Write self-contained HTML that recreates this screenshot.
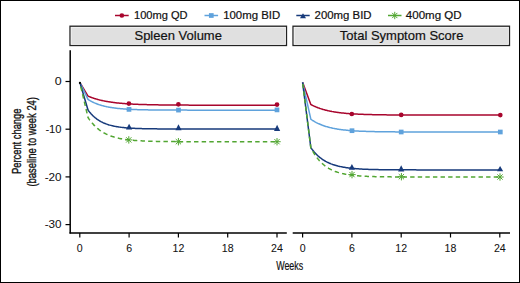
<!DOCTYPE html>
<html><head><meta charset="utf-8"><style>
html,body{margin:0;padding:0;background:#fff;}
body{width:520px;height:283px;overflow:hidden;}
svg{display:block;}
text{font-family:"Liberation Sans",sans-serif;fill:#111;stroke:#111;stroke-width:0.2px;}
.tk{font-size:10.6px;stroke-width:0.05px;}
.lg{font-size:10.9px;}
.hd{font-size:13px;}
</style></head><body>
<svg width="520" height="283" viewBox="0 0 520 283">
<rect x="0.5" y="0.5" width="519" height="282" fill="#fff" stroke="#000" stroke-width="1"/>
<line x1="115" y1="15.5" x2="128.7" y2="15.5" stroke="#a8052d" stroke-width="1.5"/>
<circle cx="121.85" cy="15.50" r="2.35" fill="#a8052d"/>
<line x1="204.5" y1="15.5" x2="218.1" y2="15.5" stroke="#5fa2dc" stroke-width="1.5"/>
<rect x="208.95" y="13.15" width="4.7" height="4.7" fill="#5fa2dc"/>
<line x1="296.3" y1="15.5" x2="309.7" y2="15.5" stroke="#173a7b" stroke-width="1.5"/>
<path d="M303.00,13.20 L306.00,18.30 L300.00,18.30 Z" fill="#173a7b"/>
<line x1="388" y1="15.5" x2="401.5" y2="15.5" stroke="#52a632" stroke-width="1.5"/>
<path d="M391.05,15.50 L398.45,15.50 M392.13,12.88 L397.37,18.12 M394.75,11.80 L394.75,19.20 M397.37,12.88 L392.13,18.12" stroke="#52a632" stroke-width="1.0" fill="none"/>
<g class="lg">
<text x="134.0" y="18.9" textLength="53.6" lengthAdjust="spacingAndGlyphs">100mg QD</text>
<text x="223.2" y="18.9" textLength="57.0" lengthAdjust="spacingAndGlyphs">100mg BID</text>
<text x="314.6" y="18.9" textLength="57.0" lengthAdjust="spacingAndGlyphs">200mg BID</text>
<text x="405.8" y="18.9" textLength="55.8" lengthAdjust="spacingAndGlyphs">400mg QD</text>
</g>
<rect x="70" y="26.2" width="216.5" height="19.3" fill="#e0e0e0" stroke="#222" stroke-width="1.3"/>
<rect x="293" y="26.2" width="216.5" height="19.3" fill="#e0e0e0" stroke="#222" stroke-width="1.3"/>
<rect x="71.2" y="27.4" width="214.1" height="16.9" fill="none" stroke="#f6f6f6" stroke-width="0.7"/>
<rect x="294.2" y="27.4" width="214.1" height="16.9" fill="none" stroke="#f6f6f6" stroke-width="0.7"/>
<text x="178.2" y="40.4" text-anchor="middle" class="hd">Spleen Volume</text>
<text x="401.6" y="40.4" text-anchor="middle" class="hd">Total Symptom Score</text>
<line x1="70.2" y1="50.3" x2="70.2" y2="233.6" stroke="#000" stroke-width="1.5"/>
<line x1="69.5" y1="232.9" x2="286.8" y2="232.9" stroke="#000" stroke-width="1.5"/>
<line x1="292.7" y1="232.9" x2="510" y2="232.9" stroke="#000" stroke-width="1.5"/>
<line x1="65.5" y1="81.50" x2="70" y2="81.50" stroke="#000" stroke-width="1.2"/>
<text x="61.6" y="85.10" text-anchor="end" class="tk" style="font-size:11px" textLength="6.9" lengthAdjust="spacingAndGlyphs">0</text>
<line x1="65.5" y1="129.20" x2="70" y2="129.20" stroke="#000" stroke-width="1.2"/>
<text x="61.6" y="132.80" text-anchor="end" class="tk" style="font-size:11px" textLength="16.2" lengthAdjust="spacingAndGlyphs">-10</text>
<line x1="65.5" y1="176.90" x2="70" y2="176.90" stroke="#000" stroke-width="1.2"/>
<text x="61.6" y="180.50" text-anchor="end" class="tk" style="font-size:11px" textLength="16.9" lengthAdjust="spacingAndGlyphs">-20</text>
<line x1="65.5" y1="224.60" x2="70" y2="224.60" stroke="#000" stroke-width="1.2"/>
<text x="61.6" y="228.20" text-anchor="end" class="tk" style="font-size:11px" textLength="16.9" lengthAdjust="spacingAndGlyphs">-30</text>
<line x1="79.80" y1="233" x2="79.80" y2="237.5" stroke="#000" stroke-width="1.2"/>
<text x="79.80" y="252.0" text-anchor="middle" class="tk">0</text>
<line x1="129.10" y1="233" x2="129.10" y2="237.5" stroke="#000" stroke-width="1.2"/>
<text x="129.10" y="252.0" text-anchor="middle" class="tk">6</text>
<line x1="178.40" y1="233" x2="178.40" y2="237.5" stroke="#000" stroke-width="1.2"/>
<text x="178.40" y="252.0" text-anchor="middle" class="tk">12</text>
<line x1="227.70" y1="233" x2="227.70" y2="237.5" stroke="#000" stroke-width="1.2"/>
<text x="227.70" y="252.0" text-anchor="middle" class="tk">18</text>
<line x1="277.00" y1="233" x2="277.00" y2="237.5" stroke="#000" stroke-width="1.2"/>
<text x="277.00" y="252.0" text-anchor="middle" class="tk">24</text>
<line x1="302.60" y1="233" x2="302.60" y2="237.5" stroke="#000" stroke-width="1.2"/>
<text x="302.60" y="252.0" text-anchor="middle" class="tk">0</text>
<line x1="351.90" y1="233" x2="351.90" y2="237.5" stroke="#000" stroke-width="1.2"/>
<text x="351.90" y="252.0" text-anchor="middle" class="tk">6</text>
<line x1="401.20" y1="233" x2="401.20" y2="237.5" stroke="#000" stroke-width="1.2"/>
<text x="401.20" y="252.0" text-anchor="middle" class="tk">12</text>
<line x1="450.50" y1="233" x2="450.50" y2="237.5" stroke="#000" stroke-width="1.2"/>
<text x="450.50" y="252.0" text-anchor="middle" class="tk">18</text>
<line x1="499.80" y1="233" x2="499.80" y2="237.5" stroke="#000" stroke-width="1.2"/>
<text x="499.80" y="252.0" text-anchor="middle" class="tk">24</text>
<path d="M79.80,82.30 L88.02,96.10 L88.05,96.11 L88.13,96.15 L88.24,96.19 L88.37,96.25 L88.54,96.32 L88.73,96.40 L88.94,96.49 L89.18,96.59 L89.43,96.69 L89.71,96.80 L90.01,96.92 L90.33,97.05 L90.67,97.18 L91.02,97.31 L91.40,97.45 L91.79,97.59 L92.20,97.74 L92.62,97.89 L93.07,98.04 L93.53,98.19 L94.00,98.35 L94.50,98.51 L95.00,98.67 L95.53,98.83 L96.07,98.99 L96.62,99.15 L97.19,99.31 L97.78,99.47 L98.38,99.64 L98.99,99.80 L99.62,99.95 L100.27,100.11 L100.93,100.27 L101.60,100.42 L102.28,100.58 L102.98,100.73 L103.70,100.88 L104.42,101.02 L105.17,101.17 L105.92,101.31 L106.69,101.45 L107.47,101.59 L108.26,101.72 L109.07,101.85 L109.89,101.98 L110.72,102.10 L111.57,102.22 L112.42,102.34 L113.30,102.46 L114.18,102.57 L115.07,102.68 L115.98,102.79 L116.90,102.89 L117.84,102.99 L118.78,103.09 L119.74,103.18 L120.71,103.27 L121.69,103.36 L122.68,103.44 L123.68,103.53 L124.70,103.60 L125.73,103.68 L126.77,103.75 L127.82,103.82 L128.88,103.89 L129.96,103.96 L131.04,104.02 L132.14,104.08 L133.25,104.14 L134.37,104.19 L135.50,104.24 L136.64,104.30 L137.80,104.34 L138.96,104.39 L140.14,104.43 L141.33,104.48 L142.52,104.52 L143.73,104.55 L144.95,104.59 L146.18,104.62 L147.42,104.66 L148.68,104.69 L149.94,104.72 L151.21,104.75 L152.50,104.77 L153.79,104.80 L155.10,104.82 L156.41,104.85 L157.74,104.87 L159.08,104.89 L160.43,104.91 L161.78,104.93 L163.15,104.94 L164.53,104.96 L165.92,104.97 L167.32,104.99 L168.73,105.00 L170.15,105.02 L171.58,105.03 L173.02,105.04 L174.47,105.05 L175.93,105.06 L177.40,105.07 L178.88,105.08 L180.37,105.09 L181.87,105.09 L183.38,105.10 L184.90,105.11 L186.43,105.11 L187.97,105.12 L189.52,105.13 L191.08,105.13 L192.65,105.14 L194.22,105.14 L195.81,105.15 L197.41,105.15 L199.02,105.15 L200.64,105.16 L202.26,105.16 L203.90,105.16 L205.55,105.17 L207.20,105.17 L208.87,105.17 L210.54,105.17 L212.23,105.17 L213.92,105.18 L215.63,105.18 L217.34,105.18 L219.06,105.18 L220.79,105.18 L222.53,105.18 L224.29,105.19 L226.04,105.19 L227.81,105.19 L229.59,105.19 L231.38,105.19 L233.18,105.19 L234.98,105.19 L236.80,105.19 L238.62,105.19 L240.45,105.19 L242.30,105.19 L244.15,105.19 L246.01,105.19 L247.88,105.20 L249.76,105.20 L251.65,105.20 L253.54,105.20 L255.45,105.20 L257.36,105.20 L259.29,105.20 L261.22,105.20 L263.16,105.20 L265.11,105.20 L267.07,105.20 L269.04,105.20 L271.02,105.20 L273.00,105.20 L275.00,105.20 L277.00,105.20" stroke="#a8052d" stroke-width="1.5" fill="none" stroke-linejoin="round"/>
<path d="M79.80,82.30 L88.02,99.40 L88.05,99.42 L88.13,99.47 L88.24,99.54 L88.37,99.63 L88.54,99.74 L88.73,99.86 L88.94,99.99 L89.18,100.13 L89.43,100.29 L89.71,100.45 L90.01,100.63 L90.33,100.81 L90.67,101.00 L91.02,101.20 L91.40,101.40 L91.79,101.60 L92.20,101.81 L92.62,102.03 L93.07,102.24 L93.53,102.46 L94.00,102.68 L94.50,102.90 L95.00,103.12 L95.53,103.34 L96.07,103.56 L96.62,103.78 L97.19,104.00 L97.78,104.22 L98.38,104.43 L98.99,104.64 L99.62,104.85 L100.27,105.05 L100.93,105.25 L101.60,105.45 L102.28,105.64 L102.98,105.83 L103.70,106.01 L104.42,106.19 L105.17,106.36 L105.92,106.53 L106.69,106.70 L107.47,106.86 L108.26,107.01 L109.07,107.16 L109.89,107.31 L110.72,107.45 L111.57,107.59 L112.42,107.72 L113.30,107.84 L114.18,107.96 L115.07,108.08 L115.98,108.19 L116.90,108.30 L117.84,108.40 L118.78,108.50 L119.74,108.59 L120.71,108.68 L121.69,108.76 L122.68,108.85 L123.68,108.92 L124.70,109.00 L125.73,109.07 L126.77,109.13 L127.82,109.20 L128.88,109.26 L129.96,109.31 L131.04,109.37 L132.14,109.42 L133.25,109.46 L134.37,109.51 L135.50,109.55 L136.64,109.59 L137.80,109.63 L138.96,109.67 L140.14,109.70 L141.33,109.73 L142.52,109.76 L143.73,109.79 L144.95,109.81 L146.18,109.84 L147.42,109.86 L148.68,109.88 L149.94,109.90 L151.21,109.92 L152.50,109.94 L153.79,109.95 L155.10,109.97 L156.41,109.98 L157.74,110.00 L159.08,110.01 L160.43,110.02 L161.78,110.03 L163.15,110.04 L164.53,110.05 L165.92,110.06 L167.32,110.06 L168.73,110.07 L170.15,110.08 L171.58,110.08 L173.02,110.09 L174.47,110.09 L175.93,110.10 L177.40,110.10 L178.88,110.11 L180.37,110.11 L181.87,110.11 L183.38,110.12 L184.90,110.12 L186.43,110.12 L187.97,110.13 L189.52,110.13 L191.08,110.13 L192.65,110.13 L194.22,110.13 L195.81,110.13 L197.41,110.14 L199.02,110.14 L200.64,110.14 L202.26,110.14 L203.90,110.14 L205.55,110.14 L207.20,110.14 L208.87,110.14 L210.54,110.14 L212.23,110.14 L213.92,110.14 L215.63,110.15 L217.34,110.15 L219.06,110.15 L220.79,110.15 L222.53,110.15 L224.29,110.15 L226.04,110.15 L227.81,110.15 L229.59,110.15 L231.38,110.15 L233.18,110.15 L234.98,110.15 L236.80,110.15 L238.62,110.15 L240.45,110.15 L242.30,110.15 L244.15,110.15 L246.01,110.15 L247.88,110.15 L249.76,110.15 L251.65,110.15 L253.54,110.15 L255.45,110.15 L257.36,110.15 L259.29,110.15 L261.22,110.15 L263.16,110.15 L265.11,110.15 L267.07,110.15 L269.04,110.15 L271.02,110.15 L273.00,110.15 L275.00,110.15 L277.00,110.15" stroke="#5fa2dc" stroke-width="1.5" fill="none" stroke-linejoin="round"/>
<path d="M79.80,82.30 L88.02,110.00 L88.05,110.05 L88.13,110.15 L88.24,110.30 L88.37,110.49 L88.54,110.71 L88.73,110.96 L88.94,111.24 L89.18,111.54 L89.43,111.87 L89.71,112.21 L90.01,112.57 L90.33,112.95 L90.67,113.34 L91.02,113.74 L91.40,114.15 L91.79,114.57 L92.20,115.00 L92.62,115.43 L93.07,115.86 L93.53,116.29 L94.00,116.73 L94.50,117.16 L95.00,117.59 L95.53,118.02 L96.07,118.45 L96.62,118.87 L97.19,119.28 L97.78,119.69 L98.38,120.09 L98.99,120.48 L99.62,120.86 L100.27,121.23 L100.93,121.60 L101.60,121.95 L102.28,122.30 L102.98,122.63 L103.70,122.95 L104.42,123.27 L105.17,123.57 L105.92,123.86 L106.69,124.14 L107.47,124.41 L108.26,124.67 L109.07,124.92 L109.89,125.15 L110.72,125.38 L111.57,125.60 L112.42,125.80 L113.30,126.00 L114.18,126.19 L115.07,126.37 L115.98,126.53 L116.90,126.69 L117.84,126.85 L118.78,126.99 L119.74,127.13 L120.71,127.25 L121.69,127.37 L122.68,127.49 L123.68,127.60 L124.70,127.70 L125.73,127.79 L126.77,127.88 L127.82,127.96 L128.88,128.04 L129.96,128.11 L131.04,128.18 L132.14,128.24 L133.25,128.30 L134.37,128.36 L135.50,128.41 L136.64,128.45 L137.80,128.50 L138.96,128.54 L140.14,128.58 L141.33,128.61 L142.52,128.65 L143.73,128.68 L144.95,128.70 L146.18,128.73 L147.42,128.75 L148.68,128.77 L149.94,128.79 L151.21,128.81 L152.50,128.83 L153.79,128.84 L155.10,128.86 L156.41,128.87 L157.74,128.88 L159.08,128.89 L160.43,128.90 L161.78,128.91 L163.15,128.92 L164.53,128.93 L165.92,128.94 L167.32,128.94 L168.73,128.95 L170.15,128.95 L171.58,128.96 L173.02,128.96 L174.47,128.97 L175.93,128.97 L177.40,128.97 L178.88,128.98 L180.37,128.98 L181.87,128.98 L183.38,128.98 L184.90,128.98 L186.43,128.99 L187.97,128.99 L189.52,128.99 L191.08,128.99 L192.65,128.99 L194.22,128.99 L195.81,128.99 L197.41,128.99 L199.02,128.99 L200.64,128.99 L202.26,129.00 L203.90,129.00 L205.55,129.00 L207.20,129.00 L208.87,129.00 L210.54,129.00 L212.23,129.00 L213.92,129.00 L215.63,129.00 L217.34,129.00 L219.06,129.00 L220.79,129.00 L222.53,129.00 L224.29,129.00 L226.04,129.00 L227.81,129.00 L229.59,129.00 L231.38,129.00 L233.18,129.00 L234.98,129.00 L236.80,129.00 L238.62,129.00 L240.45,129.00 L242.30,129.00 L244.15,129.00 L246.01,129.00 L247.88,129.00 L249.76,129.00 L251.65,129.00 L253.54,129.00 L255.45,129.00 L257.36,129.00 L259.29,129.00 L261.22,129.00 L263.16,129.00 L265.11,129.00 L267.07,129.00 L269.04,129.00 L271.02,129.00 L273.00,129.00 L275.00,129.00 L277.00,129.00" stroke="#173a7b" stroke-width="1.5" fill="none" stroke-linejoin="round"/>
<path d="M79.80,82.30 L88.02,117.50 L88.05,117.55 L88.13,117.67 L88.24,117.83 L88.37,118.04 L88.54,118.29 L88.73,118.57 L88.94,118.88 L89.18,119.21 L89.43,119.58 L89.71,119.96 L90.01,120.37 L90.33,120.79 L90.67,121.24 L91.02,121.69 L91.40,122.16 L91.79,122.64 L92.20,123.13 L92.62,123.62 L93.07,124.12 L93.53,124.62 L94.00,125.13 L94.50,125.64 L95.00,126.15 L95.53,126.66 L96.07,127.16 L96.62,127.66 L97.19,128.16 L97.78,128.65 L98.38,129.14 L98.99,129.62 L99.62,130.09 L100.27,130.55 L100.93,131.01 L101.60,131.45 L102.28,131.89 L102.98,132.31 L103.70,132.73 L104.42,133.13 L105.17,133.52 L105.92,133.91 L106.69,134.28 L107.47,134.63 L108.26,134.98 L109.07,135.31 L109.89,135.64 L110.72,135.95 L111.57,136.25 L112.42,136.54 L113.30,136.81 L114.18,137.08 L115.07,137.33 L115.98,137.58 L116.90,137.81 L117.84,138.03 L118.78,138.25 L119.74,138.45 L120.71,138.64 L121.69,138.83 L122.68,139.00 L123.68,139.17 L124.70,139.33 L125.73,139.48 L126.77,139.62 L127.82,139.75 L128.88,139.88 L129.96,140.00 L131.04,140.11 L132.14,140.22 L133.25,140.32 L134.37,140.41 L135.50,140.50 L136.64,140.58 L137.80,140.66 L138.96,140.74 L140.14,140.81 L141.33,140.87 L142.52,140.93 L143.73,140.99 L144.95,141.04 L146.18,141.09 L147.42,141.14 L148.68,141.18 L149.94,141.22 L151.21,141.26 L152.50,141.29 L153.79,141.32 L155.10,141.35 L156.41,141.38 L157.74,141.41 L159.08,141.43 L160.43,141.45 L161.78,141.47 L163.15,141.49 L164.53,141.51 L165.92,141.53 L167.32,141.54 L168.73,141.55 L170.15,141.57 L171.58,141.58 L173.02,141.59 L174.47,141.60 L175.93,141.61 L177.40,141.62 L178.88,141.62 L180.37,141.63 L181.87,141.64 L183.38,141.64 L184.90,141.65 L186.43,141.65 L187.97,141.66 L189.52,141.66 L191.08,141.66 L192.65,141.67 L194.22,141.67 L195.81,141.67 L197.41,141.68 L199.02,141.68 L200.64,141.68 L202.26,141.68 L203.90,141.68 L205.55,141.69 L207.20,141.69 L208.87,141.69 L210.54,141.69 L212.23,141.69 L213.92,141.69 L215.63,141.69 L217.34,141.69 L219.06,141.69 L220.79,141.69 L222.53,141.70 L224.29,141.70 L226.04,141.70 L227.81,141.70 L229.59,141.70 L231.38,141.70 L233.18,141.70 L234.98,141.70 L236.80,141.70 L238.62,141.70 L240.45,141.70 L242.30,141.70 L244.15,141.70 L246.01,141.70 L247.88,141.70 L249.76,141.70 L251.65,141.70 L253.54,141.70 L255.45,141.70 L257.36,141.70 L259.29,141.70 L261.22,141.70 L263.16,141.70 L265.11,141.70 L267.07,141.70 L269.04,141.70 L271.02,141.70 L273.00,141.70 L275.00,141.70 L277.00,141.70" stroke="#52a632" stroke-width="1.5" fill="none" stroke-linejoin="round" stroke-dasharray="4.434 3.211" stroke-dashoffset="3.126"/>
<circle cx="128.90" cy="103.60" r="2.35" fill="#a8052d"/>
<circle cx="178.40" cy="104.30" r="2.35" fill="#a8052d"/>
<circle cx="277.00" cy="104.60" r="2.35" fill="#a8052d"/>
<rect x="126.65" y="107.05" width="4.7" height="4.7" fill="#5fa2dc"/>
<rect x="176.15" y="107.75" width="4.7" height="4.7" fill="#5fa2dc"/>
<rect x="274.65" y="107.55" width="4.7" height="4.7" fill="#5fa2dc"/>
<path d="M129.10,123.80 L132.20,129.50 L126.00,129.50 Z" fill="#173a7b"/>
<path d="M178.50,124.30 L181.60,130.20 L175.40,130.20 Z" fill="#173a7b"/>
<path d="M277.10,124.80 L280.20,130.90 L274.00,130.90 Z" fill="#173a7b"/>
<path d="M125.10,139.90 L132.50,139.90 M126.18,137.28 L131.42,142.52 M128.80,136.20 L128.80,143.60 M131.42,137.28 L126.18,142.52" stroke="#52a632" stroke-width="1.0" fill="none"/>
<path d="M174.70,141.70 L182.10,141.70 M175.78,139.08 L181.02,144.32 M178.40,138.00 L178.40,145.40 M181.02,139.08 L175.78,144.32" stroke="#52a632" stroke-width="1.0" fill="none"/>
<path d="M273.30,141.70 L280.70,141.70 M274.38,139.08 L279.62,144.32 M277.00,138.00 L277.00,145.40 M279.62,139.08 L274.38,144.32" stroke="#52a632" stroke-width="1.0" fill="none"/>
<path d="M302.60,82.30 L310.82,104.50 L310.85,104.52 L310.93,104.56 L311.04,104.62 L311.17,104.69 L311.34,104.78 L311.53,104.88 L311.74,104.99 L311.98,105.11 L312.23,105.24 L312.51,105.38 L312.81,105.53 L313.13,105.68 L313.47,105.84 L313.82,106.01 L314.20,106.18 L314.59,106.36 L315.00,106.54 L315.42,106.72 L315.87,106.91 L316.33,107.10 L316.80,107.29 L317.30,107.49 L317.80,107.68 L318.33,107.88 L318.87,108.08 L319.42,108.27 L319.99,108.47 L320.58,108.66 L321.18,108.86 L321.79,109.05 L322.42,109.24 L323.07,109.43 L323.73,109.62 L324.40,109.81 L325.08,109.99 L325.78,110.17 L326.50,110.34 L327.22,110.52 L327.97,110.69 L328.72,110.86 L329.49,111.02 L330.27,111.18 L331.06,111.33 L331.87,111.49 L332.69,111.63 L333.52,111.78 L334.37,111.92 L335.22,112.06 L336.10,112.19 L336.98,112.32 L337.87,112.44 L338.78,112.56 L339.70,112.68 L340.64,112.79 L341.58,112.90 L342.54,113.01 L343.51,113.11 L344.49,113.20 L345.48,113.30 L346.48,113.39 L347.50,113.47 L348.53,113.56 L349.57,113.64 L350.62,113.71 L351.68,113.79 L352.76,113.86 L353.84,113.92 L354.94,113.99 L356.05,114.05 L357.17,114.11 L358.30,114.16 L359.44,114.22 L360.60,114.27 L361.76,114.32 L362.94,114.36 L364.13,114.41 L365.32,114.45 L366.53,114.49 L367.75,114.52 L368.98,114.56 L370.22,114.59 L371.48,114.62 L372.74,114.65 L374.01,114.68 L375.30,114.71 L376.59,114.73 L377.90,114.76 L379.21,114.78 L380.54,114.80 L381.88,114.82 L383.23,114.84 L384.58,114.86 L385.95,114.87 L387.33,114.89 L388.72,114.90 L390.12,114.92 L391.53,114.93 L392.95,114.94 L394.38,114.95 L395.82,114.96 L397.27,114.97 L398.73,114.98 L400.20,114.99 L401.68,115.00 L403.17,115.01 L404.67,115.01 L406.18,115.02 L407.70,115.03 L409.23,115.03 L410.77,115.04 L412.32,115.04 L413.88,115.05 L415.45,115.05 L417.02,115.05 L418.61,115.06 L420.21,115.06 L421.82,115.06 L423.44,115.07 L425.06,115.07 L426.70,115.07 L428.35,115.07 L430.00,115.08 L431.67,115.08 L433.34,115.08 L435.03,115.08 L436.72,115.08 L438.43,115.08 L440.14,115.09 L441.86,115.09 L443.59,115.09 L445.33,115.09 L447.09,115.09 L448.84,115.09 L450.61,115.09 L452.39,115.09 L454.18,115.09 L455.98,115.09 L457.78,115.09 L459.60,115.09 L461.42,115.10 L463.25,115.10 L465.10,115.10 L466.95,115.10 L468.81,115.10 L470.68,115.10 L472.56,115.10 L474.45,115.10 L476.34,115.10 L478.25,115.10 L480.16,115.10 L482.09,115.10 L484.02,115.10 L485.96,115.10 L487.91,115.10 L489.87,115.10 L491.84,115.10 L493.82,115.10 L495.80,115.10 L497.80,115.10 L499.80,115.10" stroke="#a8052d" stroke-width="1.5" fill="none" stroke-linejoin="round"/>
<path d="M302.60,82.30 L310.82,119.20 L310.85,119.22 L310.93,119.28 L311.04,119.35 L311.17,119.45 L311.34,119.56 L311.53,119.69 L311.74,119.84 L311.98,120.00 L312.23,120.17 L312.51,120.35 L312.81,120.54 L313.13,120.74 L313.47,120.95 L313.82,121.16 L314.20,121.38 L314.59,121.61 L315.00,121.84 L315.42,122.08 L315.87,122.32 L316.33,122.57 L316.80,122.81 L317.30,123.06 L317.80,123.31 L318.33,123.56 L318.87,123.80 L319.42,124.05 L319.99,124.30 L320.58,124.55 L321.18,124.79 L321.79,125.03 L322.42,125.27 L323.07,125.50 L323.73,125.74 L324.40,125.97 L325.08,126.19 L325.78,126.41 L326.50,126.63 L327.22,126.84 L327.97,127.05 L328.72,127.25 L329.49,127.45 L330.27,127.64 L331.06,127.83 L331.87,128.01 L332.69,128.19 L333.52,128.36 L334.37,128.53 L335.22,128.69 L336.10,128.84 L336.98,128.99 L337.87,129.14 L338.78,129.28 L339.70,129.41 L340.64,129.54 L341.58,129.67 L342.54,129.79 L343.51,129.91 L344.49,130.02 L345.48,130.12 L346.48,130.22 L347.50,130.32 L348.53,130.41 L349.57,130.50 L350.62,130.59 L351.68,130.67 L352.76,130.75 L353.84,130.82 L354.94,130.89 L356.05,130.95 L357.17,131.02 L358.30,131.08 L359.44,131.13 L360.60,131.19 L361.76,131.24 L362.94,131.29 L364.13,131.33 L365.32,131.37 L366.53,131.41 L367.75,131.45 L368.98,131.49 L370.22,131.52 L371.48,131.55 L372.74,131.59 L374.01,131.61 L375.30,131.64 L376.59,131.66 L377.90,131.69 L379.21,131.71 L380.54,131.73 L381.88,131.75 L383.23,131.77 L384.58,131.78 L385.95,131.80 L387.33,131.82 L388.72,131.83 L390.12,131.84 L391.53,131.85 L392.95,131.86 L394.38,131.87 L395.82,131.88 L397.27,131.89 L398.73,131.90 L400.20,131.91 L401.68,131.92 L403.17,131.92 L404.67,131.93 L406.18,131.93 L407.70,131.94 L409.23,131.94 L410.77,131.95 L412.32,131.95 L413.88,131.96 L415.45,131.96 L417.02,131.96 L418.61,131.97 L420.21,131.97 L421.82,131.97 L423.44,131.97 L425.06,131.98 L426.70,131.98 L428.35,131.98 L430.00,131.98 L431.67,131.98 L433.34,131.99 L435.03,131.99 L436.72,131.99 L438.43,131.99 L440.14,131.99 L441.86,131.99 L443.59,131.99 L445.33,131.99 L447.09,131.99 L448.84,131.99 L450.61,131.99 L452.39,131.99 L454.18,132.00 L455.98,132.00 L457.78,132.00 L459.60,132.00 L461.42,132.00 L463.25,132.00 L465.10,132.00 L466.95,132.00 L468.81,132.00 L470.68,132.00 L472.56,132.00 L474.45,132.00 L476.34,132.00 L478.25,132.00 L480.16,132.00 L482.09,132.00 L484.02,132.00 L485.96,132.00 L487.91,132.00 L489.87,132.00 L491.84,132.00 L493.82,132.00 L495.80,132.00 L497.80,132.00 L499.80,132.00" stroke="#5fa2dc" stroke-width="1.5" fill="none" stroke-linejoin="round"/>
<path d="M302.60,82.30 L310.82,147.60 L310.85,147.65 L310.93,147.76 L311.04,147.91 L311.17,148.11 L311.34,148.34 L311.53,148.60 L311.74,148.89 L311.98,149.21 L312.23,149.55 L312.51,149.91 L312.81,150.29 L313.13,150.69 L313.47,151.10 L313.82,151.53 L314.20,151.97 L314.59,152.41 L315.00,152.87 L315.42,153.33 L315.87,153.80 L316.33,154.27 L316.80,154.74 L317.30,155.22 L317.80,155.69 L318.33,156.16 L318.87,156.63 L319.42,157.10 L319.99,157.56 L320.58,158.02 L321.18,158.47 L321.79,158.92 L322.42,159.35 L323.07,159.78 L323.73,160.20 L324.40,160.61 L325.08,161.02 L325.78,161.41 L326.50,161.79 L327.22,162.16 L327.97,162.52 L328.72,162.87 L329.49,163.21 L330.27,163.54 L331.06,163.86 L331.87,164.16 L332.69,164.46 L333.52,164.74 L334.37,165.02 L335.22,165.28 L336.10,165.53 L336.98,165.77 L337.87,166.01 L338.78,166.23 L339.70,166.44 L340.64,166.64 L341.58,166.83 L342.54,167.02 L343.51,167.19 L344.49,167.36 L345.48,167.52 L346.48,167.67 L347.50,167.81 L348.53,167.94 L349.57,168.07 L350.62,168.19 L351.68,168.30 L352.76,168.41 L353.84,168.51 L354.94,168.61 L356.05,168.69 L357.17,168.78 L358.30,168.86 L359.44,168.93 L360.60,169.00 L361.76,169.07 L362.94,169.13 L364.13,169.18 L365.32,169.24 L366.53,169.29 L367.75,169.33 L368.98,169.38 L370.22,169.42 L371.48,169.45 L372.74,169.49 L374.01,169.52 L375.30,169.55 L376.59,169.58 L377.90,169.61 L379.21,169.63 L380.54,169.65 L381.88,169.67 L383.23,169.69 L384.58,169.71 L385.95,169.72 L387.33,169.74 L388.72,169.75 L390.12,169.77 L391.53,169.78 L392.95,169.79 L394.38,169.80 L395.82,169.81 L397.27,169.82 L398.73,169.82 L400.20,169.83 L401.68,169.84 L403.17,169.84 L404.67,169.85 L406.18,169.85 L407.70,169.86 L409.23,169.86 L410.77,169.86 L412.32,169.87 L413.88,169.87 L415.45,169.87 L417.02,169.88 L418.61,169.88 L420.21,169.88 L421.82,169.88 L423.44,169.88 L425.06,169.89 L426.70,169.89 L428.35,169.89 L430.00,169.89 L431.67,169.89 L433.34,169.89 L435.03,169.89 L436.72,169.89 L438.43,169.89 L440.14,169.89 L441.86,169.90 L443.59,169.90 L445.33,169.90 L447.09,169.90 L448.84,169.90 L450.61,169.90 L452.39,169.90 L454.18,169.90 L455.98,169.90 L457.78,169.90 L459.60,169.90 L461.42,169.90 L463.25,169.90 L465.10,169.90 L466.95,169.90 L468.81,169.90 L470.68,169.90 L472.56,169.90 L474.45,169.90 L476.34,169.90 L478.25,169.90 L480.16,169.90 L482.09,169.90 L484.02,169.90 L485.96,169.90 L487.91,169.90 L489.87,169.90 L491.84,169.90 L493.82,169.90 L495.80,169.90 L497.80,169.90 L499.80,169.90" stroke="#173a7b" stroke-width="1.5" fill="none" stroke-linejoin="round"/>
<path d="M302.60,82.30 L310.82,147.60 L310.85,147.67 L310.93,147.82 L311.04,148.04 L311.17,148.31 L311.34,148.63 L311.53,148.99 L311.74,149.40 L311.98,149.84 L312.23,150.31 L312.51,150.81 L312.81,151.34 L313.13,151.89 L313.47,152.46 L313.82,153.04 L314.20,153.65 L314.59,154.26 L315.00,154.89 L315.42,155.52 L315.87,156.16 L316.33,156.80 L316.80,157.45 L317.30,158.10 L317.80,158.74 L318.33,159.38 L318.87,160.02 L319.42,160.65 L319.99,161.27 L320.58,161.89 L321.18,162.49 L321.79,163.09 L322.42,163.67 L323.07,164.24 L323.73,164.80 L324.40,165.35 L325.08,165.88 L325.78,166.40 L326.50,166.90 L327.22,167.39 L327.97,167.86 L328.72,168.32 L329.49,168.76 L330.27,169.19 L331.06,169.60 L331.87,170.00 L332.69,170.38 L333.52,170.74 L334.37,171.09 L335.22,171.43 L336.10,171.75 L336.98,172.06 L337.87,172.35 L338.78,172.63 L339.70,172.89 L340.64,173.15 L341.58,173.39 L342.54,173.62 L343.51,173.83 L344.49,174.04 L345.48,174.23 L346.48,174.41 L347.50,174.59 L348.53,174.75 L349.57,174.90 L350.62,175.05 L351.68,175.19 L352.76,175.31 L353.84,175.43 L354.94,175.55 L356.05,175.65 L357.17,175.75 L358.30,175.84 L359.44,175.93 L360.60,176.01 L361.76,176.09 L362.94,176.16 L364.13,176.22 L365.32,176.28 L366.53,176.34 L367.75,176.39 L368.98,176.44 L370.22,176.49 L371.48,176.53 L372.74,176.57 L374.01,176.60 L375.30,176.64 L376.59,176.67 L377.90,176.70 L379.21,176.72 L380.54,176.75 L381.88,176.77 L383.23,176.79 L384.58,176.81 L385.95,176.82 L387.33,176.84 L388.72,176.85 L390.12,176.87 L391.53,176.88 L392.95,176.89 L394.38,176.90 L395.82,176.91 L397.27,176.92 L398.73,176.93 L400.20,176.93 L401.68,176.94 L403.17,176.95 L404.67,176.95 L406.18,176.96 L407.70,176.96 L409.23,176.96 L410.77,176.97 L412.32,176.97 L413.88,176.97 L415.45,176.98 L417.02,176.98 L418.61,176.98 L420.21,176.98 L421.82,176.98 L423.44,176.99 L425.06,176.99 L426.70,176.99 L428.35,176.99 L430.00,176.99 L431.67,176.99 L433.34,176.99 L435.03,176.99 L436.72,176.99 L438.43,177.00 L440.14,177.00 L441.86,177.00 L443.59,177.00 L445.33,177.00 L447.09,177.00 L448.84,177.00 L450.61,177.00 L452.39,177.00 L454.18,177.00 L455.98,177.00 L457.78,177.00 L459.60,177.00 L461.42,177.00 L463.25,177.00 L465.10,177.00 L466.95,177.00 L468.81,177.00 L470.68,177.00 L472.56,177.00 L474.45,177.00 L476.34,177.00 L478.25,177.00 L480.16,177.00 L482.09,177.00 L484.02,177.00 L485.96,177.00 L487.91,177.00 L489.87,177.00 L491.84,177.00 L493.82,177.00 L495.80,177.00 L497.80,177.00 L499.80,177.00" stroke="#52a632" stroke-width="1.5" fill="none" stroke-linejoin="round" stroke-dasharray="4.405 3.19" stroke-dashoffset="6.003"/>
<circle cx="351.80" cy="114.00" r="2.35" fill="#a8052d"/>
<circle cx="401.20" cy="114.90" r="2.35" fill="#a8052d"/>
<circle cx="500.30" cy="115.10" r="2.35" fill="#a8052d"/>
<rect x="349.65" y="128.35" width="4.7" height="4.7" fill="#5fa2dc"/>
<rect x="398.85" y="129.65" width="4.7" height="4.7" fill="#5fa2dc"/>
<rect x="497.95" y="129.65" width="4.7" height="4.7" fill="#5fa2dc"/>
<path d="M351.90,164.10 L355.00,169.70 L348.80,169.70 Z" fill="#173a7b"/>
<path d="M401.20,165.20 L404.30,171.40 L398.10,171.40 Z" fill="#173a7b"/>
<path d="M500.10,165.90 L503.20,171.30 L497.00,171.30 Z" fill="#173a7b"/>
<path d="M348.30,174.60 L355.70,174.60 M349.38,171.98 L354.62,177.22 M352.00,170.90 L352.00,178.30 M354.62,171.98 L349.38,177.22" stroke="#52a632" stroke-width="1.0" fill="none"/>
<path d="M397.70,176.70 L405.10,176.70 M398.78,174.08 L404.02,179.32 M401.40,173.00 L401.40,180.40 M404.02,174.08 L398.78,179.32" stroke="#52a632" stroke-width="1.0" fill="none"/>
<path d="M496.30,177.00 L503.70,177.00 M497.38,174.38 L502.62,179.62 M500.00,173.30 L500.00,180.70 M502.62,174.38 L497.38,179.62" stroke="#52a632" stroke-width="1.0" fill="none"/>
<circle cx="79.9" cy="82.9" r="1.1" fill="#000"/>
<g transform="translate(20.8,141.3) rotate(-90)"><text x="0" y="0" text-anchor="middle" style="font-size:12px;stroke-width:0.35px" textLength="65.5" lengthAdjust="spacingAndGlyphs">Percent change</text></g>
<g transform="translate(36.0,141.8) rotate(-90)"><text x="0" y="0" text-anchor="middle" style="font-size:12.4px;stroke-width:0.35px" textLength="89.6" lengthAdjust="spacingAndGlyphs">(baseline to week 24)</text></g>
<text x="289.7" y="269.8" text-anchor="middle" style="font-size:12px" textLength="27" lengthAdjust="spacingAndGlyphs">Weeks</text>
</svg>
</body></html>
